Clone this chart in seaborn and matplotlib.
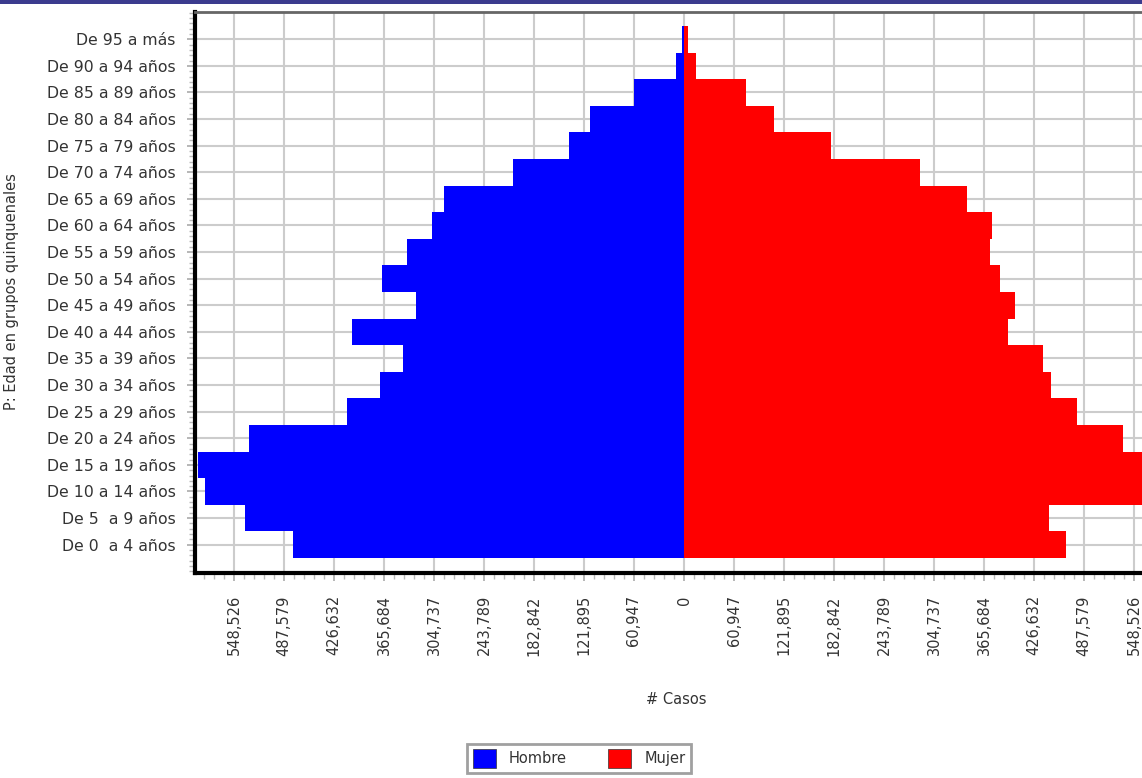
import matplotlib
matplotlib.use("Agg")
import matplotlib.pyplot as plt
from matplotlib.patches import Patch, Rectangle
from matplotlib.ticker import FixedLocator, MultipleLocator, FuncFormatter
import seaborn as sns
import pandas as pd
import numpy as np

# age groups, top to bottom as in the chart
grupos = ["De 95 a más", "De 90 a 94 años", "De 85 a 89 años", "De 80 a 84 años",
          "De 75 a 79 años", "De 70 a 74 años", "De 65 a 69 años", "De 60 a 64 años",
          "De 55 a 59 años", "De 50 a 54 años", "De 45 a 49 años", "De 40 a 44 años",
          "De 35 a 39 años", "De 30 a 34 años", "De 25 a 29 años", "De 20 a 24 años",
          "De 15 a 19 años", "De 10 a 14 años", "De 5  a 9 años", "De 0  a 4 años"]

# estimated counts
hombre = [2500, 10000, 61000, 114500, 140000, 209000, 292000, 307500,
          338000, 368500, 327000, 405000, 343000, 370500, 411000, 530000,
          592000, 584000, 535000, 477000]
mujer = [5000, 14500, 75500, 110000, 179000, 287500, 345000, 375000,
         373000, 385000, 403500, 394500, 438000, 447000, 479500, 535500,
         575000, 570000, 445000, 465500]

tick_step = 60947.365
x_limit = 596000

df = pd.DataFrame({
    "grupo": grupos * 2,
    "casos": [-v for v in hombre] + mujer,
    "sexo": ["Hombre"] * len(grupos) + ["Mujer"] * len(grupos),
})

colors = {"Hombre": "#0000FF", "Mujer": "#FF0000"}

sns.set_style("white")
plt.rcParams["font.family"] = ["DejaVu Sans"]

fig = plt.figure(figsize=(11.42, 7.78), dpi=100)
ax = fig.add_axes([195 / 1142, 1 - 573 / 778, 978 / 1142, 561 / 778])

sns.barplot(data=df, x="casos", y="grupo", hue="sexo", order=grupos,
            palette=colors, dodge=False, width=1.0, orient="h",
            linewidth=0, saturation=1, legend=False, ax=ax, zorder=3)

ax.set_xlim(-x_limit, x_limit)
ax.set_ylim(len(grupos) - 1 + 1.064, -1.026)

ticks = [k * tick_step for k in range(-9, 10)]
ax.xaxis.set_major_locator(FixedLocator(ticks))
ax.xaxis.set_major_formatter(FuncFormatter(lambda v, p: f"{abs(v):,.0f}"))
ax.xaxis.set_minor_locator(MultipleLocator(tick_step / 5))
ax.yaxis.set_minor_locator(MultipleLocator(0.2))

ax.grid(True, which="major", color="#cccccc", linewidth=1.5, zorder=0)
ax.set_axisbelow(True)

ax.tick_params(axis="x", which="major", labelsize=10.5, labelrotation=90,
               length=6, width=1.2, color="#aaaaaa", labelcolor="#333333", pad=10)
ax.tick_params(axis="x", which="minor", length=4, width=1, color="#bbbbbb")
ax.tick_params(axis="y", which="major", labelsize=11.3, length=6, width=1.2,
               color="#aaaaaa", labelcolor="#333333", pad=8)
ax.tick_params(axis="y", which="minor", length=4, width=1, color="#bbbbbb")
ax.tick_params(bottom=True, left=True, which="both")

for name in ["left", "bottom"]:
    ax.spines[name].set_color("black")
    ax.spines[name].set_linewidth(3)
ax.spines["top"].set_color("#666666")
ax.spines["top"].set_linewidth(2)
ax.spines["right"].set_visible(False)

ax.set_xlabel("")
ax.set_ylabel("")
fig.text(676 / 1142, 1 - 700 / 778, "# Casos", ha="center", va="center",
         fontsize=10.5, color="#333333")
fig.text(12 / 1142, 1 - 292 / 778, "P: Edad en grupos quinquenales", rotation=90,
         ha="center", va="center", fontsize=10.5, color="#333333")

handles = [Patch(facecolor=colors[k], edgecolor="#333333", linewidth=0.5, label=k)
           for k in ["Hombre", "Mujer"]]
leg = fig.legend(handles=handles, loc="upper center", ncol=2,
                 bbox_to_anchor=(579 / 1142, 1 - 744 / 778), frameon=True,
                 fancybox=False, edgecolor="#888888", fontsize=10.5,
                 handlelength=1.6, handleheight=1.6, columnspacing=2.8,
                 handletextpad=0.9, borderpad=0.35, borderaxespad=0)
leg.get_frame().set_linewidth(2)
for t in leg.get_texts():
    t.set_color("#333333")

# navy strip along the top of the screenshot
fig.patches.append(Rectangle((0, 1 - 4 / 778), 1, 4 / 778, transform=fig.transFigure,
                             facecolor="#3b3b8e", edgecolor="none"))

fig.savefig("out.png", dpi=100)
